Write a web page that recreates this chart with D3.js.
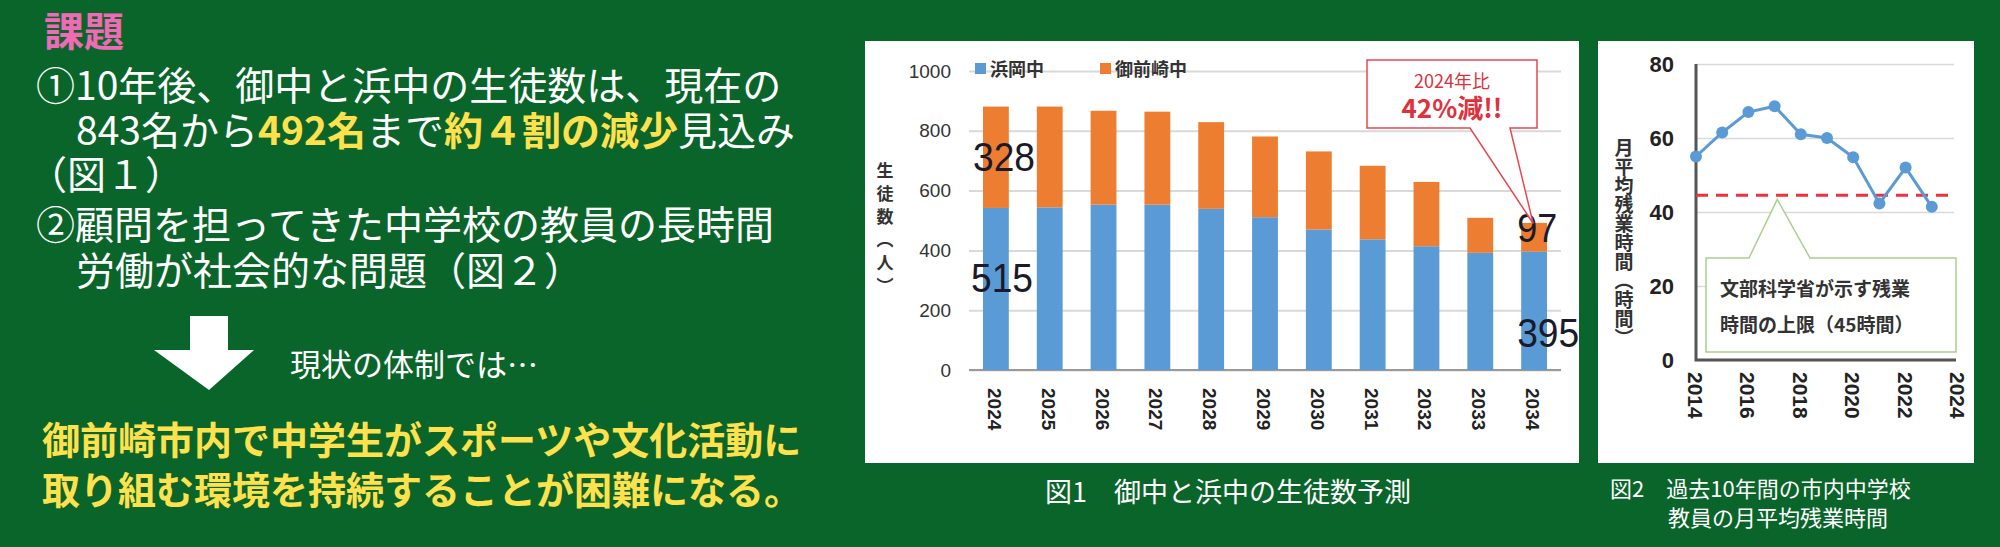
<!DOCTYPE html>
<html><head><meta charset="utf-8">
<script src="https://cdn.jsdelivr.net/npm/d3@7"></script>
<style>body{margin:0;background:#0a652a}svg{display:block}</style>
</head><body><div id="chart"></div>
<script>
// ---- data ----
const years = ["2024","2025","2026","2027","2028","2029","2030","2031","2032","2033","2034"];
const hamaoka = [542, 544, 553, 553, 539, 511, 470, 437, 414, 392, 396];
const omaezaki = [339, 337, 314, 311, 290, 270, 261, 246, 215, 117, 96];
const yTicks1 = [0, 200, 400, 600, 800, 1000];

const ovYears = [2014, 2015, 2016, 2017, 2018, 2019, 2020, 2021, 2022, 2023];
const overtime = [55, 61.5, 67, 68.6, 61, 60, 54.8, 42.3, 52, 41.4];
const limit = 44.5;
const yTicks2 = [0, 20, 40, 60, 80];
const xTicks2 = [2014, 2016, 2018, 2020, 2022, 2024];

const W = 2000, H = 547;
const JP = "'Noto Sans CJK JP', 'Noto Sans', sans-serif";
const svg = d3.select("#chart").append("svg").attr("width", W).attr("height", H);
svg.append("rect").attr("width", W).attr("height", H).attr("fill", "#0a652a");

// ---------------- left text ----------------
const t = svg.append("g").attr("font-family", JP);
t.append("text").attr("x", 44).attr("y", 46).attr("font-size", 40).attr("font-weight", "bold")
  .attr("fill", "#f06ab6").text("課題");
function line(x, y, parts, size, weight) {
  const tx = t.append("text").attr("x", x).attr("y", y).attr("font-size", size)
    .attr("font-weight", weight || "normal");
  parts.forEach(p => tx.append("tspan").attr("fill", p[1] || "#fff")
    .attr("font-weight", p[2] || null).text(p[0]));
}
line(36, 100, [["①10年後、御中と浜中の生徒数は、現在の"]], 39);
line(76, 145, [["843名から"], ["492名", "#ffe14d", "bold"], ["まで"], ["約４割の減少", "#ffe14d", "bold"], ["見込み"]], 39);
line(28, 189, [["（図１）"]], 39);
line(36, 239, [["②顧問を担ってきた中学校の教員の長時間"]], 39);
line(76, 285, [["労働が社会的な問題（図２）"]], 39);
line(290, 376, [["現状の体制では…"]], 31);
line(42, 454, [["御前崎市内で中学生がスポーツや文化活動に", "#ffe14d"]], 38, "bold");
line(42, 504, [["取り組む環境を持続することが困難になる。", "#ffe14d"]], 38, "bold");
// arrow
svg.append("path").attr("fill", "#fff")
  .attr("d", "M190,316 L228,316 L228,350 L254,350 L209,390 L154,350 L190,350 Z");

// ---------------- chart 1 ----------------
const c1 = svg.append("g").attr("font-family", JP);
c1.append("rect").attr("x", 865).attr("y", 41).attr("width", 714).attr("height", 422).attr("fill", "#fff");
const x1 = d3.scaleBand().domain(years).range([969, 1561]).paddingInner(0.52).paddingOuter(0.26);
const y1 = d3.scaleLinear().domain([0, 1000]).range([370, 71]);
c1.append("g").attr("transform", "translate(969,0)")
  .call(d3.axisLeft(y1).tickValues(yTicks1).tickFormat(d3.format("d")).tickSize(-592).tickPadding(18))
  .call(g => g.select(".domain").remove())
  .call(g => g.selectAll("line").attr("stroke", "#d9d9d9").attr("stroke-width", 2))
  .call(g => g.selectAll("text").attr("font-size", 19).attr("fill", "#333").attr("font-family", "Arial"));
c1.append("line").attr("x1", 969).attr("x2", 1561).attr("y1", y1(0)).attr("y2", y1(0))
  .attr("stroke", "#9a9a9a").attr("stroke-width", 2);
c1.selectAll("rect.ham").data(years).join("rect").attr("class", "ham")
  .attr("x", d => x1(d)).attr("width", x1.bandwidth())
  .attr("y", (d, i) => y1(hamaoka[i])).attr("height", (d, i) => y1(0) - y1(hamaoka[i]))
  .attr("fill", "#5b9bd5");
c1.selectAll("rect.omz").data(years).join("rect").attr("class", "omz")
  .attr("x", d => x1(d)).attr("width", x1.bandwidth())
  .attr("y", (d, i) => y1(hamaoka[i] + omaezaki[i])).attr("height", (d, i) => y1(hamaoka[i]) - y1(hamaoka[i] + omaezaki[i]))
  .attr("fill", "#ed7d31");
c1.selectAll("text.yr").data(years).join("text").attr("class", "yr")
  .attr("transform", d => `translate(${x1(d) + x1.bandwidth() / 2 - 8},${388}) rotate(90)`)
  .attr("font-size", 19).attr("font-weight", "bold").attr("font-family", "Arial").attr("fill", "#222").text(d => d);
// y title
c1.append("text").attr("x", 885).attr("y", 162).attr("font-size", 17).attr("font-weight", "bold")
  .attr("letter-spacing", 6).attr("fill", "#333").style("writing-mode", "vertical-rl").text("生徒数（人）");
// legend
const lg = [["浜岡中", "#5b9bd5", 975], ["御前崎中", "#ed7d31", 1100]];
lg.forEach(l => {
  c1.append("rect").attr("x", l[2]).attr("y", 63).attr("width", 11).attr("height", 11).attr("fill", l[1]);
  c1.append("text").attr("x", l[2] + 15).attr("y", 76).attr("font-size", 18).attr("font-weight", "bold")
    .attr("fill", "#333").text(l[0]);
});
// data labels (condensed digits)
const f = x1("2024"), la = x1("2034");
const dl = [["328", f - 10, y1(665), 62], ["515", f - 12, y1(262), 62], ["97", la - 4, y1(428), 40], ["395", la - 4, y1(78), 62]];
dl.forEach(d => c1.append("text").attr("x", d[1]).attr("y", d[2]).attr("font-size", 40)
  .attr("textLength", d[3]).attr("lengthAdjust", "spacingAndGlyphs")
  .attr("font-family", "'Liberation Sans', Arial").attr("fill", "#1a1a2a").text(d[0]));
// callout
c1.append("path").attr("fill", "#fff").attr("stroke", "#e8474f").attr("stroke-width", 1.5)
  .attr("d", `M1367,60 L1537,60 L1537,128 L1510,128 L${la + 12},${y1(490)} L1470,128 L1367,128 Z`);
c1.append("text").attr("x", 1452).attr("y", 88).attr("text-anchor", "middle").attr("font-size", 18)
  .attr("fill", "#e0303c").text("2024年比");
c1.append("text").attr("x", 1452).attr("y", 118).attr("text-anchor", "middle").attr("font-size", 26)
  .attr("font-weight", "bold").attr("fill", "#e0303c").text("42%減!!");
svg.append("text").attr("x", 1228).attr("y", 502).attr("text-anchor", "middle").attr("font-family", JP)
  .attr("font-size", 27).attr("fill", "#fff").text("図1　御中と浜中の生徒数予測");

// ---------------- chart 2 ----------------
const c2 = svg.append("g").attr("font-family", JP);
c2.append("rect").attr("x", 1598).attr("y", 41).attr("width", 376).attr("height", 422).attr("fill", "#fff");
const x2 = d3.scaleLinear().domain([2014, 2024]).range([1696, 1958]);
const y2 = d3.scaleLinear().domain([0, 80]).range([360, 64]);
c2.append("g").attr("transform", "translate(1696,0)")
  .call(d3.axisLeft(y2).tickValues(yTicks2).tickSize(-258).tickPadding(22))
  .call(g => g.select(".domain").remove())
  .call(g => g.selectAll("line").attr("stroke", "#d9d9d9").attr("stroke-width", 1.5))
  .call(g => g.selectAll("text").attr("font-size", 22).attr("font-weight", "bold").attr("fill", "#222").attr("font-family", "Arial"));
c2.append("path").attr("fill", "none").attr("stroke", "#555").attr("stroke-width", 3)
  .attr("d", `M1696,${y2(80)} L1696,${y2(0)} L1956,${y2(0)}`);
c2.selectAll("text.yr").data(xTicks2).join("text").attr("class", "yr")
  .attr("transform", d => `translate(${x2(d) - 8},${372}) rotate(90)`)
  .attr("font-size", 21).attr("font-weight", "bold").attr("font-family", "Arial").attr("fill", "#222").text(d => d);
c2.append("text").attr("x", 1624).attr("y", 138).attr("font-size", 19).attr("font-weight", "bold")
  .attr("fill", "#333").style("writing-mode", "vertical-rl").text("月平均残業時間（時間）");
c2.append("line").attr("x1", 1696).attr("x2", 1956).attr("y1", y2(limit)).attr("y2", y2(limit))
  .attr("stroke", "#f0303c").attr("stroke-width", 3).attr("stroke-dasharray", "12,8");
c2.append("path").datum(ovYears).attr("fill", "none").attr("stroke", "#5b9bd5").attr("stroke-width", 3)
  .attr("d", d3.line().x(d => x2(d)).y((d, i) => y2(overtime[i])));
c2.selectAll("circle").data(ovYears).join("circle")
  .attr("cx", d => x2(d)).attr("cy", (d, i) => y2(overtime[i])).attr("r", 6).attr("fill", "#5b9bd5");
// callout
c2.append("path").attr("fill", "#fff").attr("stroke", "#a9d08e").attr("stroke-width", 1.5)
  .attr("d", `M1706,258 L1749,258 L${x2(2017.1)},${y2(limit) + 4} L1810,258 L1956,258 L1956,352 L1706,352 Z`);
c2.append("text").attr("x", 1720).attr("y", 296).attr("font-size", 19).attr("font-weight", "bold")
  .attr("fill", "#333").text("文部科学省が示す残業");
c2.append("text").attr("x", 1720).attr("y", 332).attr("font-size", 19).attr("font-weight", "bold")
  .attr("fill", "#333").text("時間の上限（45時間）");
const cap = svg.append("text").attr("font-family", JP).attr("font-size", 22).attr("fill", "#fff");
cap.append("tspan").attr("x", 1610).attr("y", 497).text("図2　過去10年間の市内中学校");
cap.append("tspan").attr("x", 1668).attr("y", 526).text("教員の月平均残業時間");
</script></body></html>
